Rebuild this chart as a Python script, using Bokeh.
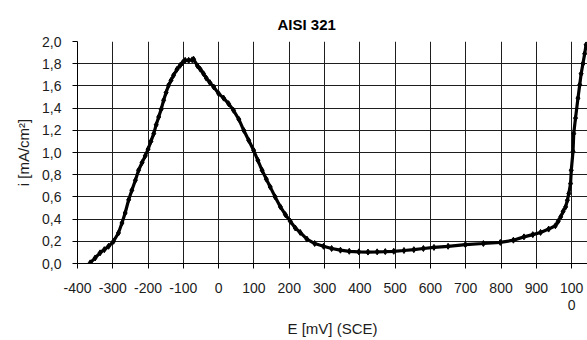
from bokeh.plotting import figure
from bokeh.models import FixedTicker, Range1d
from bokeh.embed import file_html
from bokeh.resources import INLINE

# Data (E in mV vs SCE, i in mA/cm²)
E = [-364, -350, -336, -324, -312, -298, -284, -274, -265, -255, -246, -236,
     -227, -217, -208, -200, -192, -184, -177, -170, -163, -156, -149, -142,
     -135, -128, -118, -109, -102, -95, -85, -75, -71, -60, -52, -43, -35,
     -25, -14, 0, 14, 28, 42, 57, 71, 85, 99, 111,
     123, 135, 146, 160, 175, 189, 203, 217, 231, 250, 272, 297, 320, 345,
     370, 397, 423, 449, 472, 496, 525, 553, 580, 610, 650, 699, 750, 798,
     835, 865, 890, 912, 935, 954, 962, 969, 976, 983, 988, 992, 997, 999,
     1004, 1006, 1011, 1018, 1023, 1027, 1032, 1037, 1041]
I = [0.006, 0.05, 0.096, 0.125, 0.155, 0.20, 0.275, 0.365, 0.455, 0.574, 0.66, 0.75,
     0.84, 0.91, 0.97, 1.03, 1.10, 1.17, 1.25, 1.32, 1.39, 1.47, 1.54, 1.605,
     1.65, 1.695, 1.75, 1.785, 1.81, 1.83, 1.83, 1.835, 1.84, 1.78, 1.75, 1.71, 1.67,
     1.63, 1.59, 1.53, 1.49, 1.44, 1.38, 1.30, 1.20, 1.11, 1.02, 0.93,
     0.84, 0.76, 0.69, 0.60, 0.51, 0.44, 0.38, 0.32, 0.28, 0.22, 0.18, 0.155, 0.135, 0.12,
     0.11, 0.105, 0.103, 0.105, 0.107, 0.11, 0.117, 0.125, 0.135, 0.145, 0.155, 0.17, 0.18, 0.19,
     0.21, 0.24, 0.26, 0.28, 0.31, 0.34, 0.38, 0.42, 0.47, 0.51, 0.57, 0.63, 0.72, 0.84,
     1.01, 1.17, 1.31, 1.49, 1.61, 1.71, 1.80, 1.89, 1.97]

x_ticks = [-400, -300, -200, -100, 0, 100, 200, 300, 400, 500, 600, 700, 800, 900, 1000]
x_tick_labels = ["-400", "-300", "-200", "-100", "0", "100", "200", "300",
                 "400", "500", "600", "700", "800", "900", "100\n0"]
y_ticks = [0.0, 0.2, 0.4, 0.6, 0.8, 1.0, 1.2, 1.4, 1.6, 1.8, 2.0]
y_tick_labels = ["0,0", "0,2", "0,4", "0,6", "0,8", "1,0", "1,2", "1,4", "1,6", "1,8", "2,0"]

title = "AISI 321"
x_title = "E [mV] (SCE)"
y_title = "i [mA/cm²]"

FONT = "Liberation Sans"
INK = "#1c1c1c"

p = figure(width=587, height=340, output_backend="svg", toolbar_location=None,
           x_range=Range1d(-400, 1045), y_range=Range1d(0, 2.0),
           min_border_left=77, min_border_right=0, min_border_top=41,
           min_border_bottom=76, background_fill_color="white",
           border_fill_color="white", outline_line_color=None)

p.title.text = title
p.title.text_font = FONT
p.title.text_font_size = "15px"
p.title.text_font_style = "bold"
p.title.text_color = "black"
p.title.align = "left"
p.title.offset = 200
p.title.standoff = 17

p.line(E, I, line_color="black", line_width=3.2)
p.scatter(E, I, marker="diamond", size=6, fill_color="black", line_color="black")

for ax in (p.xaxis[0], p.yaxis[0]):
    ax.major_label_text_font = FONT
    ax.major_label_text_font_size = "14px"
    ax.major_label_text_color = INK
    ax.axis_label_text_font = FONT
    ax.axis_label_text_font_size = "15px"
    ax.axis_label_text_font_style = "normal"
    ax.axis_label_text_color = INK
    ax.axis_line_color = "black"
    ax.major_tick_line_color = "black"
    ax.major_tick_out = 5
    ax.major_tick_in = 0
    ax.minor_tick_line_color = None

p.xaxis.ticker = FixedTicker(ticks=x_ticks)
p.xaxis.major_label_overrides = dict(zip(x_ticks, x_tick_labels))
p.xaxis.major_label_text_line_height = 1.1
p.xaxis.axis_label = x_title
p.xaxis.major_label_standoff = 11
p.xaxis.axis_label_standoff = 4

p.yaxis.ticker = FixedTicker(ticks=y_ticks)
p.yaxis.major_label_overrides = dict(zip(y_ticks, y_tick_labels))
p.yaxis.axis_label = y_title
p.yaxis.major_label_standoff = 11
p.yaxis.axis_label_standoff = 7

p.xgrid.ticker = FixedTicker(ticks=x_ticks)
p.ygrid.ticker = FixedTicker(ticks=y_ticks)
for g in (p.xgrid[0], p.ygrid[0]):
    g.grid_line_color = "#1e1e1e"
    g.grid_line_width = 1

open("out.html", "w").write(file_html(p, INLINE))
